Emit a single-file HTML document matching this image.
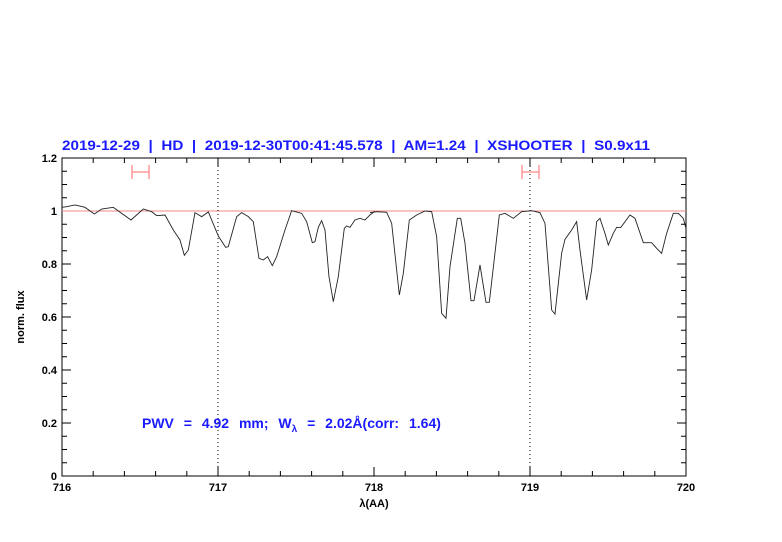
<!DOCTYPE html>
<html><head><meta charset="utf-8"><style>
body{margin:0;background:#fff;}
svg{display:block;font-family:"Liberation Sans",sans-serif;}
</style></head><body>
<svg width="782" height="542" viewBox="0 0 782 542" xmlns="http://www.w3.org/2000/svg">
<text x="62" y="150" font-size="14" font-weight="bold" fill="#1a1aff" textLength="588" lengthAdjust="spacingAndGlyphs" word-spacing="4">2019-12-29  |  HD  |  2019-12-30T00:41:45.578  |  AM=1.24  |  XSHOOTER  |  S0.9x11</text>
<rect x="62" y="158" width="624" height="318" fill="none" stroke="#000" stroke-width="1"/>
<g stroke="#000" stroke-width="1">
<path d="M93.2 158v5M124.4 158v5M155.6 158v5M186.8 158v5M218 158v9M249.2 158v5M280.4 158v5M311.6 158v5M342.8 158v5M374 158v9M405.2 158v5M436.4 158v5M467.6 158v5M498.8 158v5M530 158v9M561.2 158v5M592.4 158v5M623.6 158v5M654.8 158v5
M93.2 476v-5M124.4 476v-5M155.6 476v-5M186.8 476v-5M218 476v-9M249.2 476v-5M280.4 476v-5M311.6 476v-5M342.8 476v-5M374 476v-9M405.2 476v-5M436.4 476v-5M467.6 476v-5M498.8 476v-5M530 476v-9M561.2 476v-5M592.4 476v-5M623.6 476v-5M654.8 476v-5"/>
<path d="M62 171.25h5M62 184.5h5M62 197.75h5M62 211h9M62 224.25h5M62 237.5h5M62 250.75h5M62 264h9M62 277.25h5M62 290.5h5M62 303.75h5M62 317h9M62 330.25h5M62 343.5h5M62 356.75h5M62 370h9M62 383.25h5M62 396.5h5M62 409.75h5M62 423h9M62 436.25h5M62 449.5h5M62 462.75h5
M686 171.25h-5M686 184.5h-5M686 197.75h-5M686 211h-9M686 224.25h-5M686 237.5h-5M686 250.75h-5M686 264h-9M686 277.25h-5M686 290.5h-5M686 303.75h-5M686 317h-9M686 330.25h-5M686 343.5h-5M686 356.75h-5M686 370h-9M686 383.25h-5M686 396.5h-5M686 409.75h-5M686 423h-9M686 436.25h-5M686 449.5h-5M686 462.75h-5"/>
</g>
<g font-size="11" font-weight="bold" fill="#000" text-anchor="end">
<text x="57" y="162">1.2</text><text x="57" y="215">1</text><text x="57" y="268">0.8</text><text x="57" y="321">0.6</text><text x="57" y="374">0.4</text><text x="57" y="427">0.2</text><text x="57" y="480">0</text>
</g>
<g font-size="11" font-weight="bold" fill="#000" text-anchor="middle">
<text x="62" y="491">716</text><text x="218" y="491">717</text><text x="374" y="491">718</text><text x="530" y="491">719</text><text x="686" y="491">720</text>
<text x="374" y="507">λ(AA)</text>
</g>
<text transform="translate(24,317) rotate(-90)" font-size="11" font-weight="bold" text-anchor="middle">norm. flux</text>
<line x1="62" y1="211" x2="686" y2="211" stroke="#e88" stroke-width="1"/>
<line x1="218" y1="158" x2="218" y2="476" stroke="#000" stroke-width="1" stroke-dasharray="1,3"/>
<line x1="530" y1="158" x2="530" y2="476" stroke="#000" stroke-width="1" stroke-dasharray="1,3"/>
<g stroke="#f88" stroke-width="1.3" fill="none">
<path d="M132 172h17M132 165v14M149 165v14"/>
<path d="M522 172h17M522 165v14M539 165v14"/>
</g>
<g transform="translate(55,150) scale(0.3333)" fill="none" stroke="#222" stroke-width="0.9">
<polyline vector-effect="non-scaling-stroke" points="21,172 35,170 60,165 90,172 118,192 140,177 175,172 200,190 228,210 265,177 290,185 305,197 330,195 355,240 375,270 388,316 400,300 420,188 440,200 460,186 490,258 512,292 520,290 545,200 560,188 580,200 595,215 612,325 625,330 638,320 652,347 665,320 690,240 710,182 740,190 755,215 772,278 780,275 790,232 800,212 810,240 822,380 835,455 850,380 868,235 875,228 885,232 900,210 915,205 930,210 945,195 958,185 960,185"/>
</g>
<g transform="translate(370,150) scale(0.3333)" fill="none" stroke="#222" stroke-width="0.9">
<polyline vector-effect="non-scaling-stroke" points="0,188 20,185 50,187 65,220 88,435 100,370 118,210 140,195 165,183 185,185 200,260 215,490 228,505 240,350 262,205 272,205 285,280 303,452 312,452 330,345 348,457 358,457 388,195 405,190 430,205 455,185 485,182 510,188 525,220 545,480 555,492 575,310 585,268 605,240 620,215 630,300 650,450 665,360 680,215 690,205 705,250 715,285 730,250 740,232 752,233 780,195 795,205 820,278 845,278 860,295 875,310 890,250 910,190 925,190 940,205 948,235"/>
</g>
<text x="142" y="428" font-size="14" font-weight="bold" fill="#1a1aff" word-spacing="6">PWV = 4.92 mm; W<tspan font-size="10" dy="4">λ</tspan><tspan dy="-4"> = 2.02Å(corr: 1.64)</tspan></text>
</svg>
</body></html>
